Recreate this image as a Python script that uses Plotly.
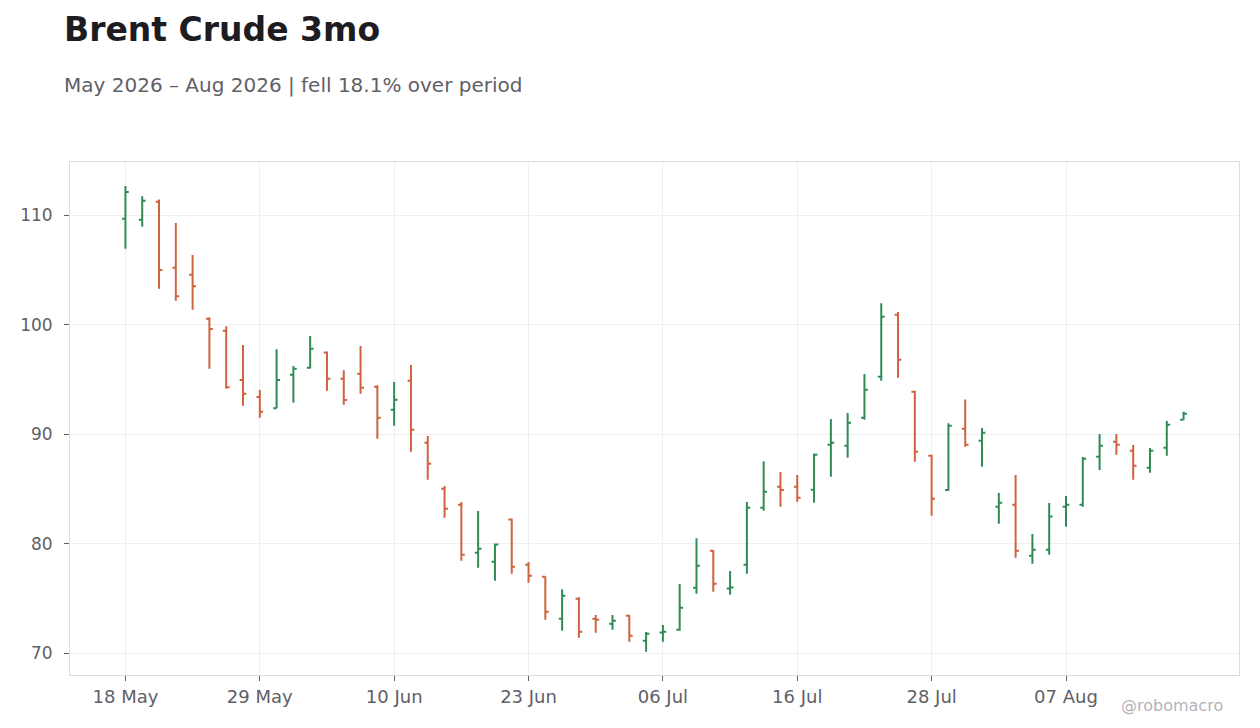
import pandas as pd
import plotly.graph_objects as go

# trading days, US holidays skipped (Memorial Day, Juneteenth, 4th of July observed)
holidays = ["2026-05-25", "2026-06-19", "2026-07-03"]
dates = pd.bdate_range("2026-05-18", "2026-08-18", freq="C", holidays=holidays)
days = [d.strftime("%Y-%m-%d") for d in dates]

opens = [109.66, 109.57, 111.22, 105.19, 104.55, 100.53, 99.43, 94.93, 93.38, 92.37,
         95.42, 96.06, 97.46, 95.05, 95.51, 94.32, 92.22, 94.87, 89.21, 85.00,
         83.55, 79.16, 78.34, 82.21, 78.06, 76.97, 73.14, 74.96, 73.14, 72.68,
         73.40, 71.12, 71.88, 72.13, 75.97, 79.35, 75.90, 78.06, 83.27, 85.19,
         85.19, 84.92, 89.02, 88.93, 91.49, 95.24, 100.90, 93.87, 88.02, 84.89,
         90.49, 89.40, 83.36, 83.55, 78.89, 79.43, 83.36, 83.55, 87.93, 89.30,
         88.48, 86.93, 88.75, 91.31]
highs = [112.65, 111.73, 111.43, 109.27, 106.35, 100.68, 99.86, 98.13, 94.02, 97.76,
         96.21, 98.95, 97.55, 95.84, 98.04, 94.47, 94.75, 96.30, 89.82, 85.25,
         83.79, 82.97, 80.00, 82.30, 78.31, 77.00, 75.84, 75.11, 73.47, 73.47,
         73.47, 71.92, 72.56, 76.30, 80.50, 79.41, 77.49, 83.79, 87.53, 86.53,
         86.26, 88.24, 91.37, 91.92, 95.48, 101.96, 101.14, 93.96, 88.11, 91.00,
         93.15, 90.55, 84.61, 86.26, 80.87, 83.70, 84.34, 87.90, 90.00, 90.00,
         89.00, 88.72, 91.19, 92.04]
lows = [106.92, 108.93, 103.27, 102.18, 101.35, 95.97, 94.14, 92.59, 91.49, 92.35,
        92.86, 96.00, 93.96, 92.68, 93.68, 89.57, 90.76, 88.38, 85.83, 82.36,
        78.43, 77.79, 76.60, 77.24, 76.42, 73.04, 72.04, 71.40, 71.86, 72.13,
        71.03, 70.12, 71.03, 72.04, 75.42, 75.60, 75.32, 77.24, 83.00, 83.36,
        83.82, 83.73, 86.10, 87.84, 91.31, 94.87, 95.15, 87.47, 82.54, 84.82,
        88.84, 87.02, 81.81, 78.70, 78.16, 78.98, 81.54, 83.36, 86.73, 88.11,
        85.83, 86.48, 88.02, 91.30]
closes = [112.10, 111.31, 104.98, 102.60, 103.50, 99.59, 94.29, 93.68, 92.04, 94.93,
          95.97, 97.79, 95.05, 93.11, 94.23, 91.49, 93.14, 90.40, 87.29, 83.18,
          78.98, 79.53, 79.91, 77.88, 77.06, 73.77, 75.24, 71.95, 73.05, 72.95,
          71.58, 71.76, 71.95, 74.14, 77.97, 76.33, 76.00, 83.27, 84.73, 84.89,
          84.18, 88.11, 89.21, 91.03, 94.05, 100.71, 96.79, 88.39, 84.09, 90.76,
          89.02, 90.12, 83.73, 79.34, 79.43, 82.47, 83.55, 87.75, 88.93, 89.02,
          87.11, 88.48, 90.85, 91.86]

tick_idx = list(range(0, len(days), 8))
tick_vals = [days[i] for i in tick_idx]
tick_text = [dates[i].strftime("%d %b") for i in tick_idx]

pct = (closes[-1] / closes[0] - 1) * 100
subtitle = (f"{dates[0]:%b %Y} \u2013 {dates[-1]:%b %Y} | "
            f"{'fell' if pct < 0 else 'rose'} {abs(pct):.1f}% over period")

font = "DejaVu Sans"
grey = "#5f6068"

fig = go.Figure(go.Ohlc(
    x=days,
    open=opens,
    high=highs,
    low=lows,
    close=closes,
    increasing={"line": {"color": "#2e8b57", "width": 2}},
    decreasing={"line": {"color": "#d0623f", "width": 2}},
    tickwidth=0.2,
    showlegend=False,
))

# page body has an 8px margin, so the figure is sized/margined to land the plot at 68..1239
fig.update_layout(
    width=1252,
    height=720,
    margin={"l": 60, "r": 21, "t": 154, "b": 53},
    paper_bgcolor="white",
    plot_bgcolor="white",
    font={"family": font, "size": 17, "color": grey},
    annotations=[
        dict(text="<b>Brent Crude 3mo</b>", xref="paper", yref="paper",
             x=-0.0068, y=1.259, xanchor="left", yanchor="middle", showarrow=False,
             font={"family": font, "size": 33, "color": "#1c1c21"}),
        dict(text=subtitle, xref="paper", yref="paper",
             x=-0.0068, y=1.150, xanchor="left", yanchor="middle", showarrow=False,
             font={"family": font, "size": 20, "color": grey}),
        dict(text="@robomacro", xref="paper", yref="paper",
             x=0.988, y=-0.0585, xanchor="right", yanchor="middle", showarrow=False,
             font={"family": font, "size": 16, "color": "#b4b4b8"}),
    ],
)

fig.update_xaxes(
    type="category",
    range=[-3.3, len(days) - 1 + 3.3],
    tickvals=tick_vals,
    ticktext=tick_text,
    tickfont={"size": 18},
    rangeslider_visible=False,
    showgrid=True, gridcolor="#efefef",
    showline=True, linecolor="#dddddd", mirror=True,
    ticks="outside", ticklen=5, tickcolor=grey,
    zeroline=False,
)
fig.update_yaxes(
    range=[68, 114.85],
    tickvals=[70, 80, 90, 100, 110],
    tickfont={"size": 17},
    ticklabelstandoff=8,
    showgrid=True, gridcolor="#efefef",
    showline=True, linecolor="#dddddd", mirror=True,
    ticks="outside", ticklen=5, tickcolor=grey,
    zeroline=False,
)

fig.write_html("out.html")
